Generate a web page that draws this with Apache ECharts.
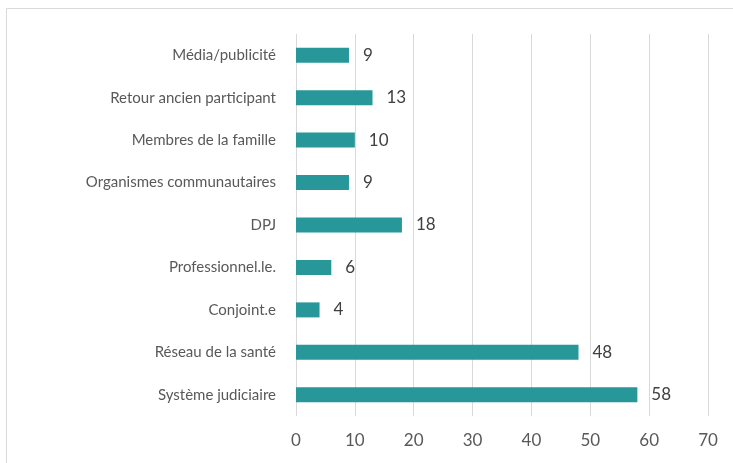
<!DOCTYPE html>
<html>
<head>
<meta charset="utf-8">
<script src="https://cdn.jsdelivr.net/npm/echarts@6/dist/echarts.min.js"></script>
<style>
  html, body { margin: 0; padding: 0; background: #fff; }
  #chart { width: 733px; height: 463px; }
</style>
</head>
<body>
<div id="chart"></div>
<script>
// categories bottom -> top (yAxis category order)
const categories = ['Système judiciaire', 'Réseau de la santé', 'Conjoint.e', 'Professionnel.le.', 'DPJ',
    'Organismes communautaires', 'Membres de la famille', 'Retour ancien participant', 'Média/publicité'];
const values = [58, 48, 4, 6, 18, 9, 10, 13, 9];
const xTicks = [0, 10, 20, 30, 40, 50, 60, 70];

const chart = echarts.init(document.getElementById('chart'));
const font = 'Lato, "Liberation Sans", sans-serif';

chart.setOption({
    animation: false,
    graphic: [{
        type: 'rect',
        shape: { x: 6.5, y: 8.5, width: 740, height: 470 },
        style: { fill: 'none', stroke: '#d9d9d9', lineWidth: 1 }
    }],
    grid: { left: 296, right: 25, top: 34, bottom: 47, containLabel: false },
    xAxis: {
        type: 'value',
        min: xTicks[0],
        max: xTicks[xTicks.length - 1],
        interval: 10,
        axisLine: { show: false },
        axisTick: { show: false },
        splitLine: { show: true, lineStyle: { color: '#d9d9d9', width: 1 } },
        axisLabel: { color: '#595959', fontSize: 17, fontFamily: font, margin: 16 }
    },
    yAxis: {
        type: 'category',
        data: categories,
        axisLine: { show: false },
        axisTick: { show: false },
        axisLabel: { color: '#595959', fontSize: 15, fontFamily: font, margin: 20 }
    },
    series: [{
        type: 'bar',
        data: values,
        barWidth: 15,
        itemStyle: { color: '#27979a' },
        label: {
            show: true,
            position: 'right',
            distance: 14,
            color: '#404040',
            fontSize: 17,
            fontFamily: font
        }
    }]
});
</script>
</body>
</html>
